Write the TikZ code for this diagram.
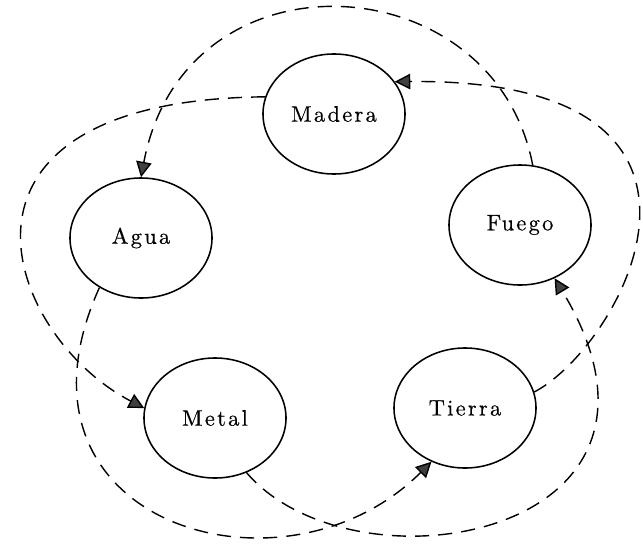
\documentclass[tikz,border=0pt]{standalone}
\usepackage{fontspec}
\newfontfamily\elemfont{lmroman10-regular.otf}[LetterSpace=10, FakeBold=0.4]
\usetikzlibrary{shapes.geometric,arrows.meta}

\begin{document}
\begin{tikzpicture}[x=0.025cm, y=-0.025cm,
        element/.style = {draw, ellipse, line width=1.1pt, minimum width=3.55cm, minimum height=3cm,
                          inner sep=0pt, font=\elemfont\fontsize{16}{19}\selectfont},
        link/.style    = {line width=1pt, dash pattern=on 10pt off 6.5pt,
                          -{Triangle[length=11pt, width=11pt, fill=gray!50!black]}}]
        \useasboundingbox (0,0) rectangle (643,546);

        % the five elements
        \node[element] (mad) at (334,114) {Madera};
        \node[element] (fue) at (520,225) {Fuego};
        \node[element] (tie) at (465,408) {Tierra};
        \node[element] (met) at (215,418) {Metal};
        \node[element] (agu) at (141,238) {Agua};

        % star of dashed arcs round the outside
        \draw[link] (fue.78)   .. controls (494,-37) and (185,-55) .. (agu.90);
        \draw[link] (tie.13)   .. controls (622,346) and (769,78)  .. (mad.28);
        \draw[link] (mad.166)  .. controls (-80,100) and (4,335)   .. (met.172);
        \draw[link] (agu.-130) .. controls (-7,523)  and (283,610) .. (tie.-122);
        \draw[link] (met.-60)  .. controls (354,598) and (711,538) .. (fue.-57);
\end{tikzpicture}
\end{document}
